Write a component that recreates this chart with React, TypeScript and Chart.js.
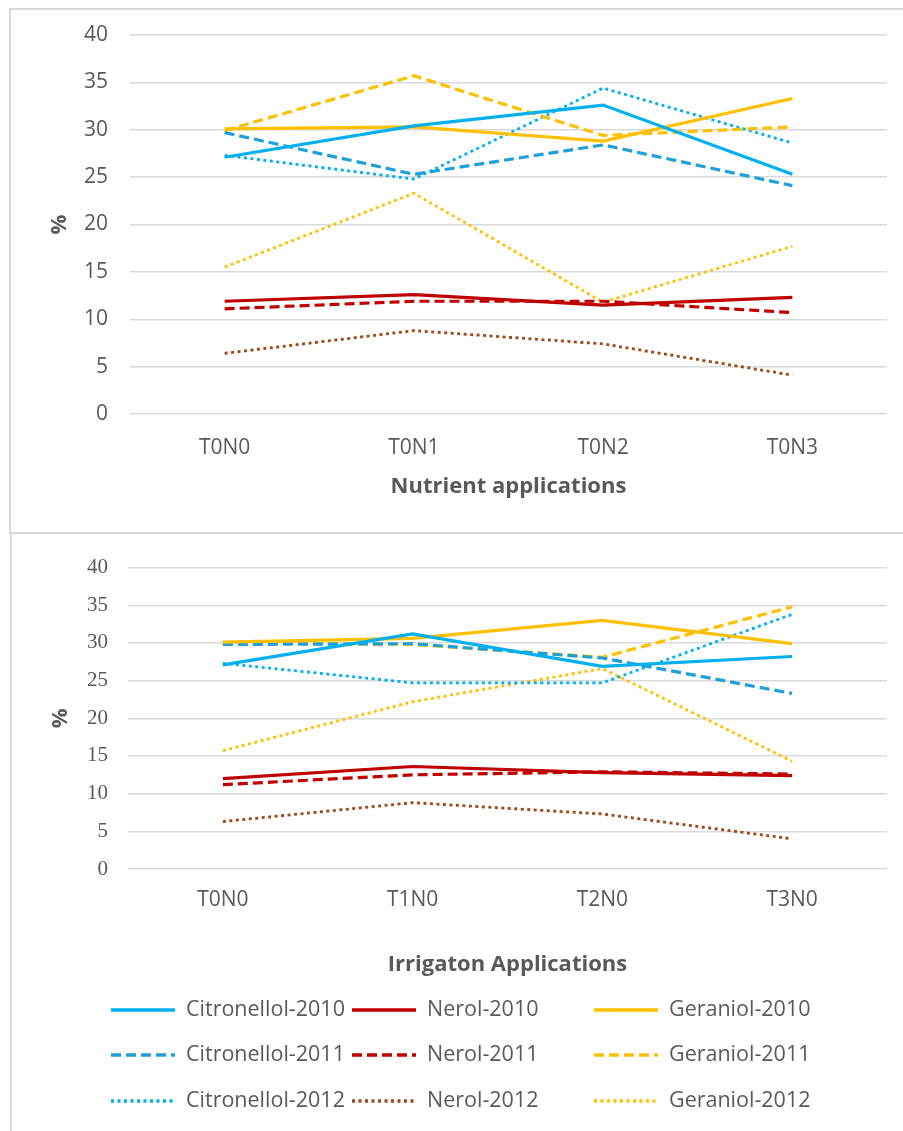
import React, { useEffect, useRef } from 'react';
import { Chart, registerables } from 'chart.js';

Chart.register(...registerables);

// ---- Data ----
const nutrientCategories = ['T0N0', 'T0N1', 'T0N2', 'T0N3'];
const irrigationCategories = ['T0N0', 'T1N0', 'T2N0', 'T3N0'];
const seriesLabels = [
  'Citronellol-2010', 'Nerol-2010', 'Geraniol-2010',
  'Citronellol-2011', 'Nerol-2011', 'Geraniol-2011',
  'Citronellol-2012', 'Nerol-2012', 'Geraniol-2012',
];
const yMin = 0;
const yMax = 40;
const yStep = 5;

// Nutrient applications
const nCit2010 = [27.1, 30.4, 32.6, 25.3];
const nNer2010 = [11.9, 12.6, 11.5, 12.3];
const nGer2010 = [30.1, 30.3, 28.8, 33.3];
const nCit2011 = [29.7, 25.3, 28.4, 24.1];
const nNer2011 = [11.1, 11.9, 11.9, 10.7];
const nGer2011 = [29.9, 35.7, 29.4, 30.3];
const nCit2012 = [27.3, 24.8, 34.4, 28.6];
const nNer2012 = [6.4, 8.8, 7.4, 4.1];
const nGer2012 = [15.5, 23.3, 11.8, 17.7];

// Irrigation applications
const iCit2010 = [27.1, 31.2, 26.9, 28.2];
const iNer2010 = [12.0, 13.6, 12.8, 12.4];
const iGer2010 = [30.1, 30.6, 33.0, 29.9];
const iCit2011 = [29.8, 29.9, 28.0, 23.3];
const iNer2011 = [11.2, 12.5, 12.9, 12.6];
const iGer2011 = [30.0, 29.8, 28.1, 34.8];
const iCit2012 = [27.3, 24.7, 24.7, 33.8];
const iNer2012 = [6.3, 8.8, 7.3, 4.0];
const iGer2012 = [15.7, 22.2, 26.6, 14.3];

// ---- Styles ----
const colors = ['#00B0F0', '#C00000', '#FFC000', '#1EA0DA', '#C00000', '#FFC000', '#00B0F0', '#9C4A1A', '#FFC000'];
const SOLID: number[] = [];
const DASH = [10, 5];
const DOT = [3, 3.5];
const dashes = [SOLID, SOLID, SOLID, DASH, DASH, DASH, DOT, DOT, DOT];
const widths = [3.2, 3.2, 3.2, 3.2, 3.2, 3.2, 2.8, 2.8, 2.8];

const FONT = "'Open Sans', 'DejaVu Sans', sans-serif";
const TEXT = '#595959';
const GRID = '#d9d9d9';

function buildDatasets(values: number[][]) {
  return values.map((v, i) => ({
    label: seriesLabels[i],
    data: v,
    borderColor: colors[i],
    backgroundColor: colors[i],
    borderWidth: widths[i],
    borderDash: dashes[i],
    borderCapStyle: 'butt' as const,
    pointRadius: 0,
    pointHoverRadius: 0,
    tension: 0,
    fill: false,
  }));
}

const gridLegend = {
  id: 'gridLegend',
  afterDraw(chart: any, _args: any, opts: any) {
    if (!opts || !opts.display) return;
    const ctx = chart.ctx;
    chart.data.datasets.forEach((ds: any, i: number) => {
      const x = opts.cols[i % 3];
      const y = opts.rows[Math.floor(i / 3)];
      ctx.save();
      ctx.strokeStyle = ds.borderColor;
      ctx.lineWidth = ds.borderWidth + 0.5;
      ctx.lineCap = 'butt';
      ctx.setLineDash(ds.borderDash || []);
      ctx.beginPath();
      ctx.moveTo(x, y);
      ctx.lineTo(x + opts.lineLen, y);
      ctx.stroke();
      ctx.setLineDash([]);
      ctx.fillStyle = opts.color;
      ctx.font = opts.font;
      ctx.textBaseline = 'middle';
      ctx.textAlign = 'left';
      ctx.fillText(ds.label, x + opts.textGap, y);
      ctx.restore();
    });
  },
};

type Cfg = {
  labels: string[];
  values: number[][];
  xTitle: string;
  yAxisWidth: number;
  xAxisHeight: number;
  padTop: number;
  padBottom: number;
  padRight: number;
  yTickPad: number;
  xTickPad: number;
  xTitlePadBottom: number;
  yTitlePad: number;
  yTickFont: string;
  legend?: any;
};

function LineChart({ cfg, width, height }: { cfg: Cfg; width: number; height: number }) {
  const ref = useRef<HTMLCanvasElement | null>(null);
  useEffect(() => {
    if (!ref.current) return;
    const chart = new Chart(ref.current, {
      type: 'line',
      data: { labels: cfg.labels, datasets: buildDatasets(cfg.values) as any },
      plugins: [gridLegend as any],
      options: {
        animation: false,
        responsive: false,
        devicePixelRatio: 1,
        events: [],
        layout: { padding: { top: cfg.padTop, bottom: cfg.padBottom, left: 0, right: cfg.padRight } },
        plugins: {
          legend: { display: false },
          tooltip: { enabled: false },
          gridLegend: cfg.legend || { display: false },
        } as any,
        scales: {
          x: {
            offset: true,
            grid: { display: false, drawTicks: false },
            border: { display: false },
            ticks: { color: TEXT, font: { family: FONT, size: 21 }, padding: cfg.xTickPad, maxRotation: 0 },
            title: {
              display: true,
              text: cfg.xTitle,
              color: TEXT,
              font: { family: FONT, size: 22, weight: 'bold' },
              padding: { top: 0, bottom: cfg.xTitlePadBottom },
            },
            afterFit: (s: any) => { s.height = cfg.xAxisHeight; },
          },
          y: {
            min: yMin,
            max: yMax,
            ticks: { stepSize: yStep, color: TEXT, font: { family: cfg.yTickFont, size: 21 }, padding: cfg.yTickPad },
            grid: { color: GRID, lineWidth: 1.5, drawTicks: false },
            border: { display: false },
            title: {
              display: true,
              text: '%',
              color: TEXT,
              font: { family: FONT, size: 22, weight: 'bold' },
              padding: { top: cfg.yTitlePad, bottom: 0 },
            },
            afterFit: (s: any) => { s.width = cfg.yAxisWidth; },
          },
        },
      } as any,
    });
    return () => chart.destroy();
  }, []);
  return <canvas ref={ref} width={width} height={height} style={{ display: 'block', width, height }} />;
}

const topCfg: Cfg = {
  labels: nutrientCategories,
  values: [nCit2010, nNer2010, nGer2010, nCit2011, nNer2011, nGer2011, nCit2012, nNer2012, nGer2012],
  xTitle: 'Nutrient applications',
  yAxisWidth: 130,
  xAxisHeight: 118,
  padTop: 35,
  padBottom: 0,
  padRight: 16,
  yTickPad: 22,
  xTickPad: 21,
  xTitlePadBottom: 32,
  yTitlePad: 47,
  yTickFont: FONT,
};

const bottomCfg: Cfg = {
  labels: irrigationCategories,
  values: [iCit2010, iNer2010, iGer2010, iCit2011, iNer2011, iGer2011, iCit2012, iNer2012, iGer2012],
  xTitle: 'Irrigaton Applications',
  yAxisWidth: 128,
  xAxisHeight: 120,
  padTop: 28,
  padBottom: 142,
  padRight: 16,
  yTickPad: 20,
  xTickPad: 18,
  xTitlePadBottom: 11,
  yTitlePad: 48,
  yTickFont: "'Liberation Serif', 'DejaVu Serif', serif",
  legend: {
    display: true,
    cols: [111, 352, 594],
    rows: [475, 520, 566],
    lineLen: 64,
    textGap: 75,
    font: `21.5px ${FONT}`,
    color: TEXT,
  },
};

export default function App() {
  return (
    <div style={{ position: 'absolute', left: 0, top: 0, width: 903, height: 1131, overflow: 'hidden', background: '#fff' }}>
      <div style={{ position: 'absolute', left: 9, top: 8, width: 920, height: 522, border: '2px solid #d9d9d9' }} />
      <div style={{ position: 'absolute', left: 10, top: 534, width: 920, height: 620, borderLeft: '2px solid #d9d9d9' }} />
      <div style={{ position: 'absolute', left: 0, top: 0 }}>
        <LineChart cfg={topCfg} width={903} height={532} />
      </div>
      <div style={{ position: 'absolute', left: 0, top: 535 }}>
        <LineChart cfg={bottomCfg} width={903} height={596} />
      </div>
    </div>
  );
}
